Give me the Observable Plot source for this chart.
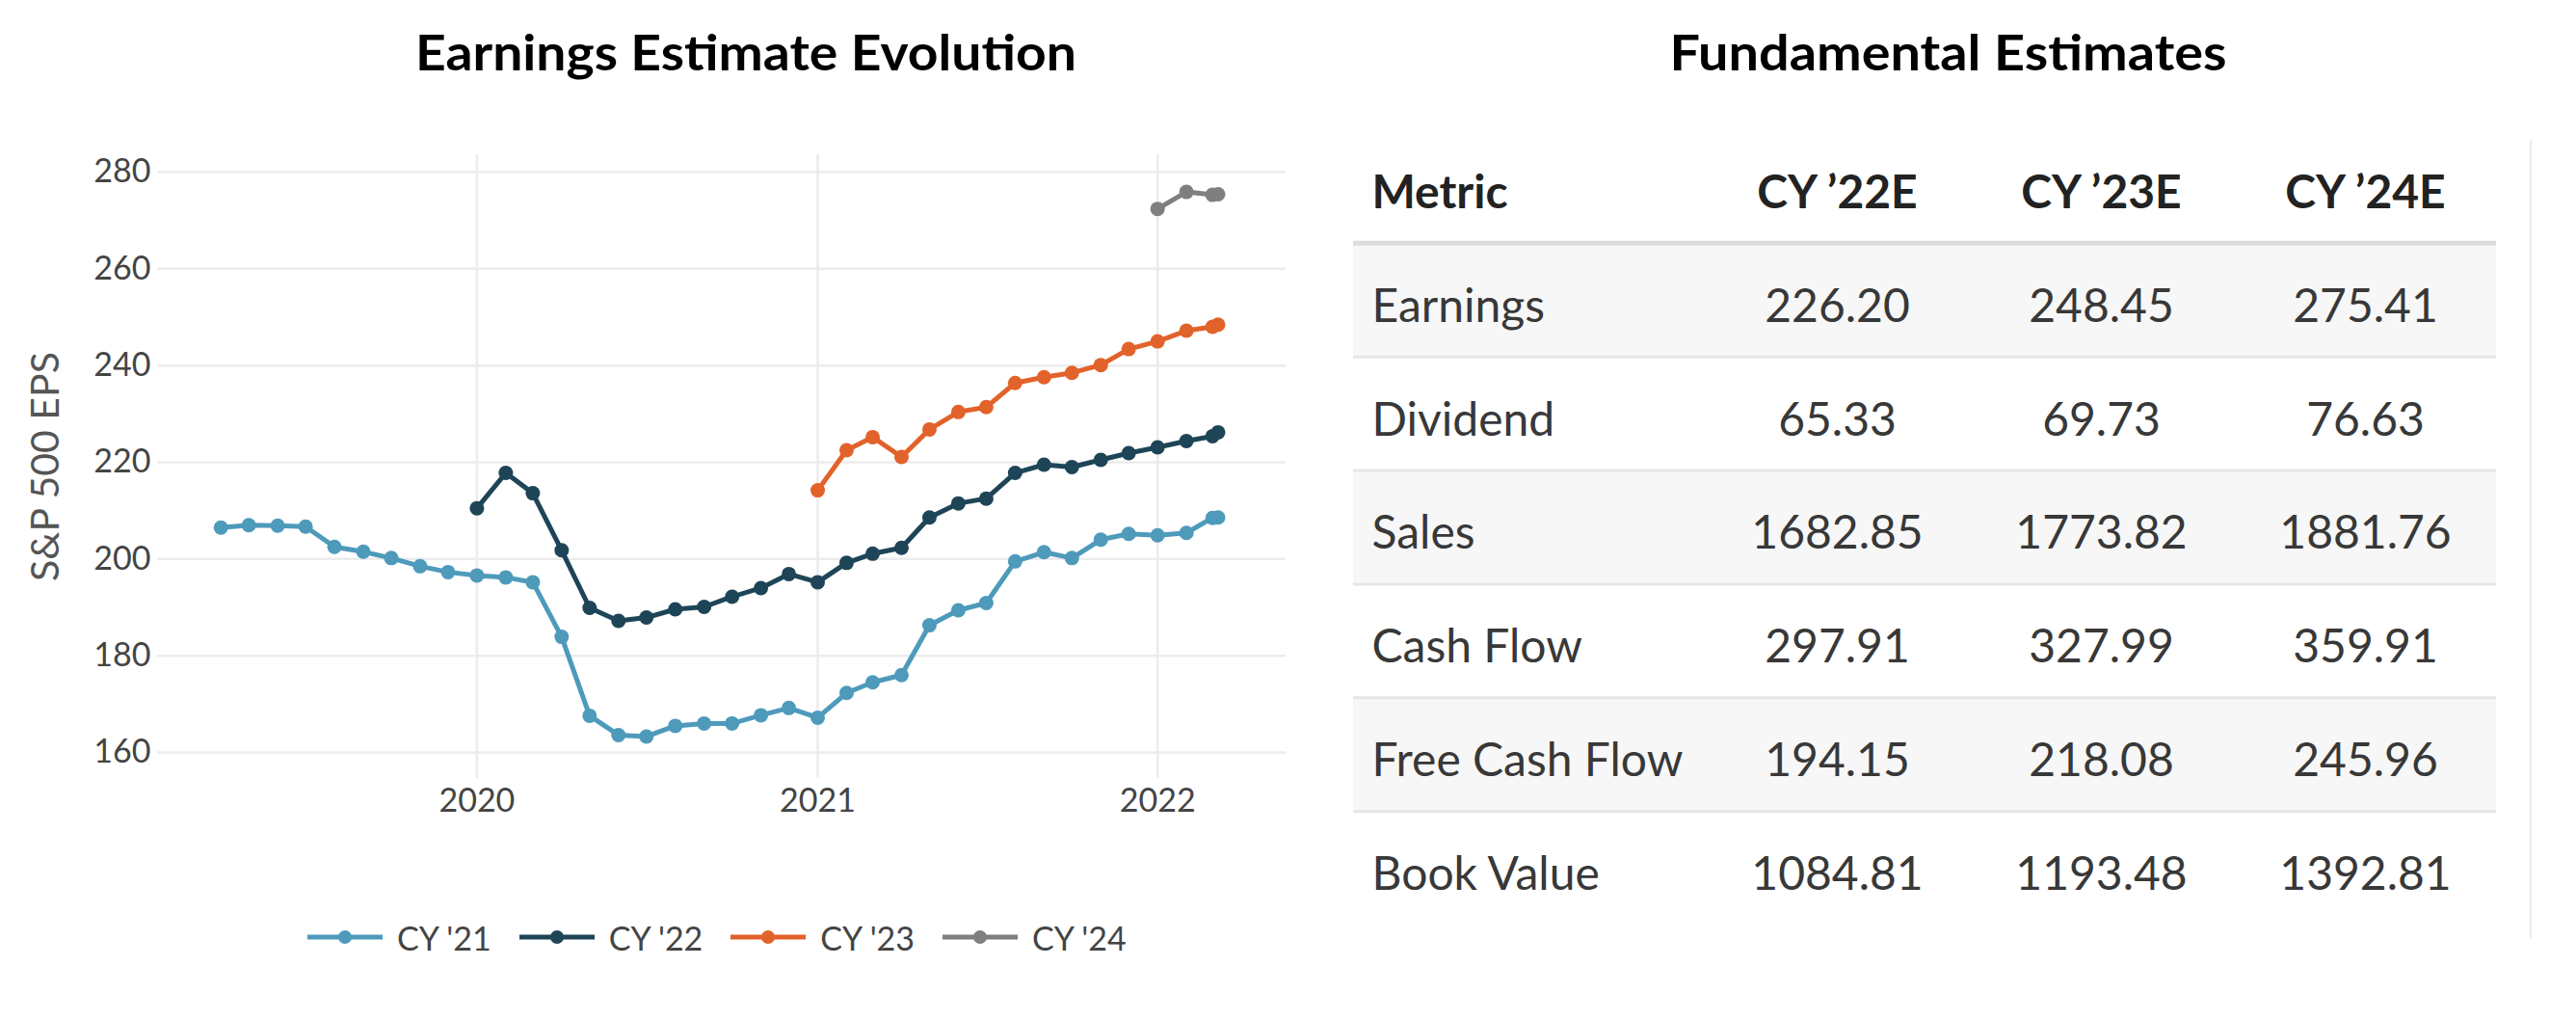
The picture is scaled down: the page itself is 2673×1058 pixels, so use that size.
<!DOCTYPE html>
<html>
<head>
<meta charset="utf-8">
<script src="https://cdn.jsdelivr.net/npm/d3@7"></script>
<script src="https://cdn.jsdelivr.net/npm/@observablehq/plot@0.6"></script>
<style>
html, body { margin: 0; padding: 0; background: #fff; }
#page { position: relative; width: 2673px; height: 1058px; overflow: hidden; font-family: Lato, "Open Sans", sans-serif; background: #fff; }
.title { position: absolute; top: 27px; width: 2000px; text-align: center; font-weight: 700; font-size: 52px; line-height: 1; color: #000; white-space: nowrap; }
.title span { display: inline-block; transform-origin: center; }
#chart { position: absolute; left: 0; top: 0; }
#table { position: absolute; left: 1340px; top: 0; }
#legend { position: absolute; left: 319px; top: 952px; height: 40px; display: flex; align-items: center; font-size: 34px; color: #444; white-space: nowrap; }
.item { display: flex; align-items: center; margin-right: 29px; }
.item svg { margin-right: 15px; }
#card { position: absolute; left: 2500px; width: 125px; top: 145px; height: 828px; border-right: 2px solid #ececec; }
</style>
</head>
<body>
<div id="page">
  <div class="title" id="t1" style="left:-226px"><span>Earnings Estimate Evolution</span></div>
  <div class="title" id="t2" style="left:1021px"><span>Fundamental Estimates</span></div>
  <div id="card"></div>
  <div id="chart"></div>
  <div id="legend"></div>
  <div id="table"></div>
</div>
<script>
// ---------- Chart data ----------
const dates = [
  "2019-04-01","2019-05-01","2019-06-01","2019-07-01","2019-08-01","2019-09-01","2019-10-01","2019-11-01","2019-12-01",
  "2020-01-01","2020-02-01","2020-03-01","2020-04-01","2020-05-01","2020-06-01","2020-07-01","2020-08-01","2020-09-01","2020-10-01","2020-11-01","2020-12-01",
  "2021-01-01","2021-02-01","2021-03-01","2021-04-01","2021-05-01","2021-06-01","2021-07-01","2021-08-01","2021-09-01","2021-10-01","2021-11-01","2021-12-01",
  "2022-01-01","2022-02-01","2022-03-01","2022-03-07"
];
const seriesNames = ["CY '21", "CY '22", "CY '23", "CY '24"];
const seriesColors = ["#4e9abb", "#1e4557", "#e2622b", "#7f7f7f"];
const cy21 = [206.5, 207.0, 206.9, 206.7, 202.5, 201.5, 200.2, 198.5, 197.3,
  196.6, 196.2, 195.2, 183.9, 167.6, 163.6, 163.3, 165.5, 166.0, 166.0, 167.7, 169.2,
  167.2, 172.3, 174.5, 176.0, 186.3, 189.4, 190.9, 199.5, 201.4, 200.2, 204.0, 205.2,
  204.9, 205.4, 208.5, 208.6];
const cy22 = [null, null, null, null, null, null, null, null, null,
  210.5, 217.8, 213.6, 201.8, 189.9, 187.2, 187.9, 189.6, 190.1, 192.2, 194.0, 196.9,
  195.2, 199.2, 201.1, 202.3, 208.6, 211.5, 212.5, 217.8, 219.5, 219.0, 220.5, 221.9,
  223.1, 224.4, 225.4, 226.2];
const cy23 = [null, null, null, null, null, null, null, null, null,
  null, null, null, null, null, null, null, null, null, null, null, null,
  214.2, 222.5, 225.2, 221.1, 226.8, 230.4, 231.4, 236.4, 237.6, 238.5, 240.1, 243.4,
  245.0, 247.2, 248.0, 248.45];
const cy24 = [null, null, null, null, null, null, null, null, null,
  null, null, null, null, null, null, null, null, null, null, null, null,
  null, null, null, null, null, null, null, null, null, null, null, null,
  272.4, 275.9, 275.3, 275.41];
const xTickYears = [2020, 2021, 2022];
const yTicks = [160, 180, 200, 220, 240, 260, 280];
const yLabel = "S&P 500 EPS";

// ---------- Table data ----------
const metrics = ["Earnings", "Dividend", "Sales", "Cash Flow", "Free Cash Flow", "Book Value"];
const years = ["CY \u201922E", "CY \u201923E", "CY \u201924E"];
const cy22E = [226.20, 65.33, 1682.85, 297.91, 194.15, 1084.81];
const cy23E = [248.45, 69.73, 1773.82, 327.99, 218.08, 1193.48];
const cy24E = [275.41, 76.63, 1881.76, 359.91, 245.96, 1392.81];
const headerLabel = "Metric";

// ---------- Build chart ----------
const parse = d3.utcParse("%Y-%m-%d");
const allSeries = [cy21, cy22, cy23, cy24];
const points = allSeries.flatMap((vals, s) =>
  vals.map((v, i) => ({date: parse(dates[i]), value: v, series: seriesNames[s]}))
      .filter(d => d.value != null));
const xTicks = xTickYears.map(y => new Date(Date.UTC(y, 0, 1)));

const chart = Plot.plot({
  width: 1340,
  height: 860,
  marginLeft: 163,
  marginRight: 6,
  marginTop: 160,
  marginBottom: 53,
  style: {fontFamily: "Lato, 'Open Sans', sans-serif", fontSize: "34px", color: "#444", background: "transparent", overflow: "visible"},
  x: {type: "utc", domain: [parse("2019-01-23"), parse("2022-05-19")], ticks: xTicks, tickFormat: d3.utcFormat("%Y"), tickSize: 0, tickPadding: 10, label: null},
  y: {domain: [154.62, 283.59], ticks: yTicks, tickSize: 0, tickPadding: 7, label: null},
  color: {domain: seriesNames, range: seriesColors},
  marks: [
    Plot.ruleY(yTicks, {stroke: "#ececec", strokeWidth: 2.5}),
    Plot.ruleX(xTicks, {stroke: "#ececec", strokeWidth: 2.5}),
    Plot.line(points, {x: "date", y: "value", stroke: "series", z: "series", strokeWidth: 5}),
    Plot.dot(points, {x: "date", y: "value", fill: "series", r: 7.5}),
    Plot.text([yLabel], {text: d => d, frameAnchor: "left", textAnchor: "middle", dx: -116, rotate: -90, fontSize: 41, fill: "#555"})
  ]
});
document.getElementById("chart").appendChild(chart);

// ---------- Legend ----------
const legend = document.getElementById("legend");
seriesNames.forEach((name, i) => {
  const item = document.createElement("div");
  item.className = "item";
  const c = seriesColors[i];
  item.innerHTML = `<svg width="78" height="20"><line x1="0" y1="10" x2="78" y2="10" stroke="${c}" stroke-width="5"/><circle cx="39" cy="10" r="7" fill="${c}"/></svg><span>${name}</span>`;
  legend.appendChild(item);
});

// ---------- Table ----------
const rowsAll = [headerLabel, ...metrics];
const yearValues = [cy22E, cy23E, cy24E];
const cells = metrics.flatMap((m, i) => years.map((yr, j) => ({metric: m, row: i + 1, col: yr, value: yearValues[j][i]})));
const shadedRows = metrics.map((m, i) => i + 1).filter(r => r % 2 === 1);
const bodyBoundaries = metrics.slice(0, -1).map((m, i) => i + 2);

const table = Plot.plot({
  width: 1333,
  height: 1058,
  marginLeft: 64,
  marginRight: 83,
  marginTop: 134,
  marginBottom: 99,
  style: {fontFamily: "Lato, 'Open Sans', sans-serif", fontSize: "48px", color: "#333", background: "transparent", overflow: "visible"},
  x: {type: "point", domain: years, range: [565, 1114], padding: 0, axis: null},
  y: {domain: [0, rowsAll.length], range: [134, 959], axis: null},
  marks: [
    Plot.rect(shadedRows, {y1: d => d, y2: d => d + 1, fill: "#f7f7f7"}),
    Plot.ruleY([1], {stroke: "#dcdcdc", strokeWidth: 5}),
    Plot.ruleY(bodyBoundaries, {stroke: "#e6e6e6", strokeWidth: 3}),
    Plot.text([headerLabel], {y: () => 0.5, text: d => d, frameAnchor: "left", dx: 19, textAnchor: "start", fontWeight: "bold", fill: "#222", dy: 7}),
    Plot.text(years, {x: d => d, y: () => 0.5, text: d => d, fontWeight: "bold", fill: "#222", dy: 7}),
    Plot.text(metrics, {y: (d, i) => i + 1.5, text: d => d, frameAnchor: "left", dx: 19, textAnchor: "start", fill: "#383838", dy: 7}),
    Plot.text(cells, {x: "col", y: d => d.row + 0.5, text: d => d.value.toFixed(2), fill: "#383838", dy: 7})
  ]
});
document.getElementById("table").appendChild(table);

// ---------- Fit titles to reference widths ----------
[["t1", 686], ["t2", 578]].forEach(([id, target]) => {
  const span = document.querySelector(`#${id} span`);
  const w = span.getBoundingClientRect().width;
  if (w > 0) span.style.transform = `scaleX(${target / w})`;
});
</script>
</body>
</html>
